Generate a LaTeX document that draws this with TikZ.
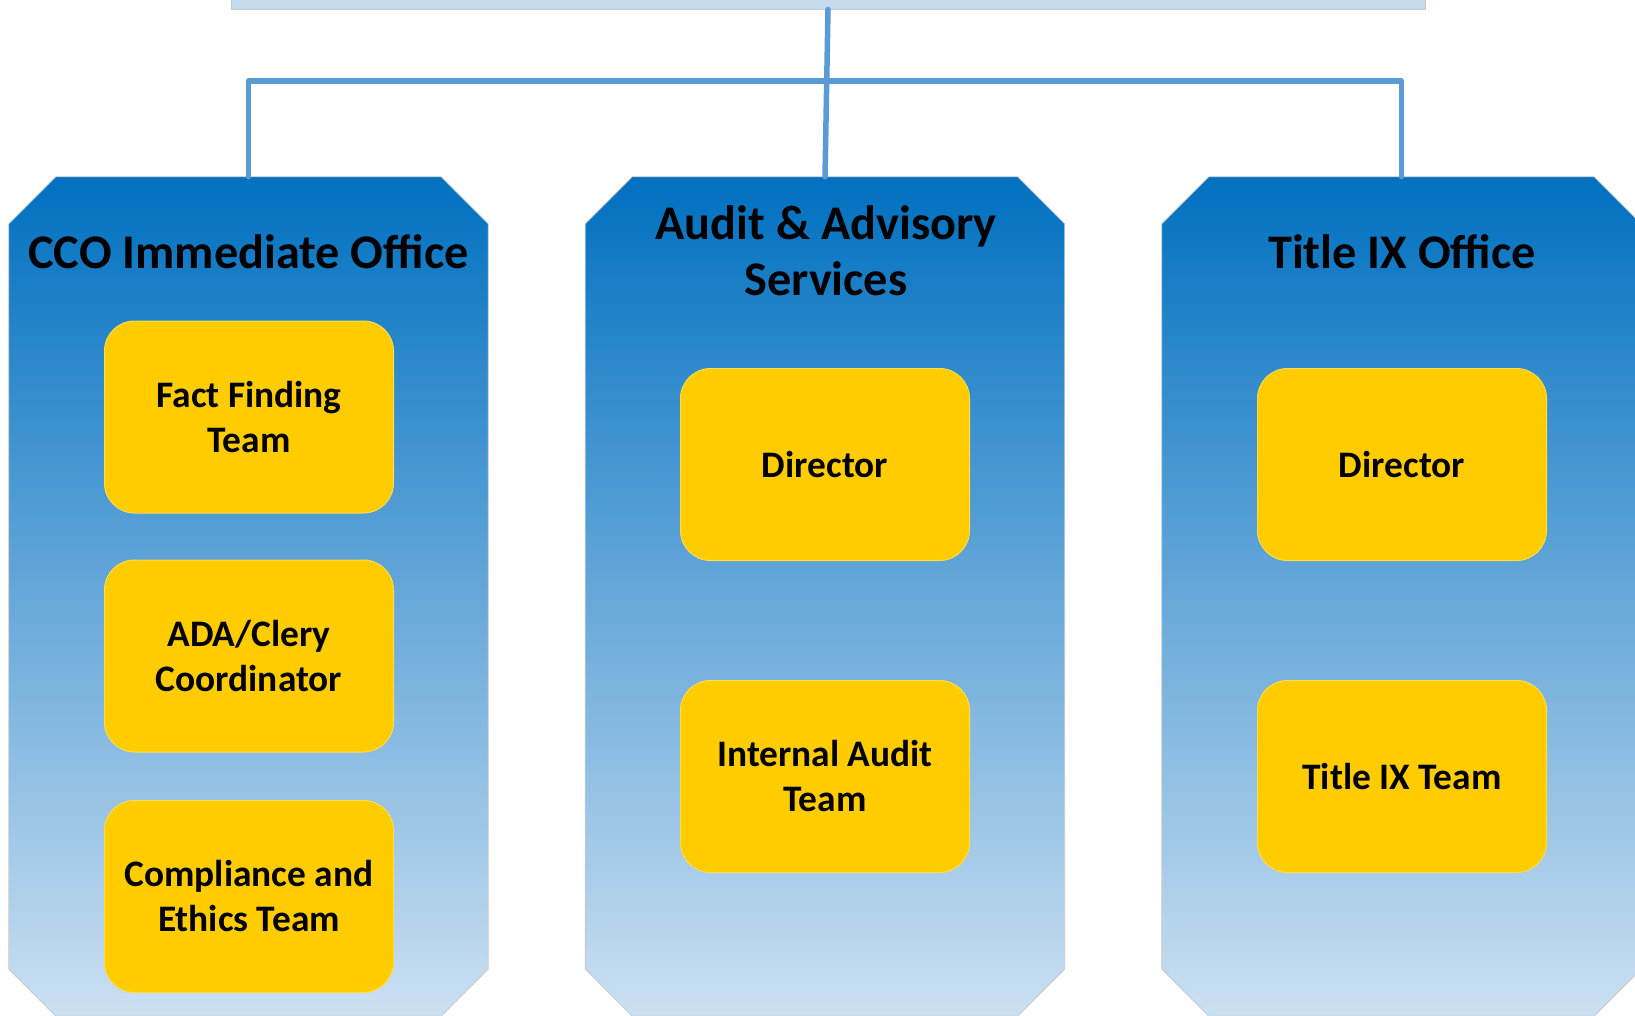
\documentclass[tikz,border=0pt]{standalone}
\usepackage{fontspec}
\setmainfont{Carlito}
\definecolor{coltop}{RGB}{0,112,192}
\definecolor{colbot}{RGB}{204,224,242}
\definecolor{boxyellow}{RGB}{255,204,0}
\definecolor{connblue}{RGB}{91,155,213}
\definecolor{barblue}{RGB}{197,220,239}
\definecolor{edgegray}{RGB}{200,200,200}
\newcommand\octpath[1]{([xshift=47pt]#1.north west) -- ([xshift=-47pt]#1.north east) -- ([yshift=-47pt]#1.north east) -- ([yshift=47pt]#1.south east) -- ([xshift=-47pt]#1.south east) -- ([xshift=47pt]#1.south west) -- ([yshift=47pt]#1.south west) -- ([yshift=-47pt]#1.north west) -- cycle}
\tikzset{
  colframe/.style={rectangle, minimum width=479pt, minimum height=839pt, inner sep=0pt},
  colfill/.style={top color=coltop, bottom color=colbot, draw=edgegray, line width=0.8pt},
  coltitle/.style={font=\fontsize{48.3}{56}\selectfont\bfseries, align=center, text=black, inner sep=0pt},
  ybox/.style={rectangle, rounded corners=30pt, fill=boxyellow, draw=boxyellow!70!white, line width=1pt, minimum width=289pt, minimum height=192pt, align=center, font=\fontsize{37.4}{45}\selectfont\bfseries, text=black, inner sep=0pt},
  conn/.style={draw=connblue, line width=5.5pt, line join=round, line cap=round},
  barbox/.style={rectangle, fill=barblue, draw=edgegray, line width=0.8pt, minimum width=1194pt, minimum height=40pt, inner sep=0pt}
}
\begin{document}
\begin{tikzpicture}[x=1pt, y=-1pt]
\useasboundingbox (0,0) rectangle (1635,1016);
\clip (0,0) rectangle (1635,1016);
% top bar
\node[barbox] (bar) at (828,-11) {};
% column frames
\node[colframe] (c1) at (248.5,596.5) {};
\node[colframe] (c2) at (825,596.5) {};
\node[colframe] (c3) at (1401.5,596.5) {};
\path[colfill] \octpath{c1};
\path[colfill] \octpath{c2};
\path[colfill] \octpath{c3};
% connectors
\coordinate (hub) at (826,81);
\draw[conn] (bar.south) -- (c2.north);
\draw[conn] (c1.north) |- (hub) -| (c3.north);
% titles
\node[coltitle] (t1) at (248.5,252) {CCO Immediate Office};
\node[coltitle] (t2) at (826,251) {Audit \& Advisory\\Services};
\node[coltitle] (t3) at (1402,252) {Title IX Office};
% boxes
\node[ybox] (b11) at (249,417) {Fact Finding\\Team};
\node[ybox] (b12) at (249,656) {ADA/Clery\\Coordinator};
\node[ybox] (b13) at (249,896.5) {Compliance and\\Ethics Team};
\node[ybox] (b21) at (825,464.5) {Director};
\node[ybox] (b22) at (825,776.5) {Internal Audit\\Team};
\node[ybox] (b31) at (1402,464.5) {Director};
\node[ybox] (b32) at (1402,776.5) {Title IX Team};
\end{tikzpicture}
\end{document}
